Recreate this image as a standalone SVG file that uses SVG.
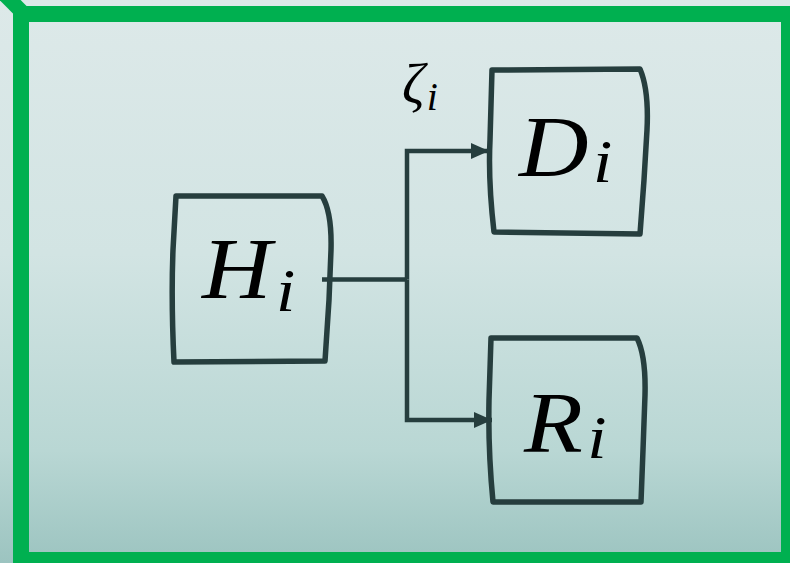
<svg xmlns="http://www.w3.org/2000/svg" width="790" height="563" viewBox="0 0 790 563">
<defs>
<linearGradient id="bg" x1="0" y1="0" x2="0" y2="1">
<stop offset="0" stop-color="#dde9e9"/>
<stop offset="0.45" stop-color="#d2e4e3"/>
<stop offset="0.8" stop-color="#b9d7d4"/>
<stop offset="1" stop-color="#9cc4c0"/>
</linearGradient>
<marker id="arr" viewBox="0 0 10 10" refX="10" refY="5" markerWidth="18" markerHeight="18" markerUnits="userSpaceOnUse" orient="auto">
<path d="M0,0.5 L10,5 L0,9.5 Z" fill="#263e3e"/>
</marker>
<style>
.box{fill:none;stroke:#263e3e;stroke-width:5.5;stroke-linejoin:round}
.edge{fill:none;stroke:#263e3e;stroke-width:4.5}
.m{font-family:"Liberation Serif","DejaVu Serif",serif;font-style:italic;fill:#000}
</style>
</defs>
<rect x="0" y="0" width="790" height="563" fill="url(#bg)"/>
<g id="frame">
<line x1="2" y1="-8" x2="24" y2="14" stroke="#00b050" stroke-width="15"/>
<rect x="21" y="14" width="768" height="546" fill="none" stroke="#00b050" stroke-width="16"/>
</g>
<g id="connectors">
<path class="edge" d="M322,279.5 L407,279.5"/>
<path class="edge" d="M407,279.5 L407,151 L489,151" marker-end="url(#arr)"/>
<path class="edge" d="M407,279.5 L407,420 L492,420" marker-end="url(#arr)"/>
<text class="m" x="402" y="103" font-size="56">ζ<tspan font-size="40" dx="2" dy="7">i</tspan></text>
</g>
<g id="H">
<path class="box" d="M176,196 L322,196 Q332,212 331,250 L329,300 L325,361 L174,362 Q171,300 173,250 Z"/>
<text class="m" transform="translate(202,298) scale(1.12,1)" font-size="86">H<tspan font-size="62" dx="4" dy="13">i</tspan></text>
</g>
<g id="D">
<path class="box" d="M492,70 L640,69 Q649,90 647,130 L644,180 L640,234 L494,232 Q488,180 490,140 Z"/>
<text class="m" transform="translate(519,176) scale(1.12,1)" font-size="86">D<tspan font-size="62" dx="4" dy="6">i</tspan></text>
</g>
<g id="R">
<path class="box" d="M491,338 L637,338 Q646,356 645,395 L643,450 L641,502 L493,502 Q488,450 489,400 Z"/>
<text class="m" transform="translate(524,452) scale(1.12,1)" font-size="86">R<tspan font-size="62" dx="4" dy="6">i</tspan></text>
</g>
</svg>
